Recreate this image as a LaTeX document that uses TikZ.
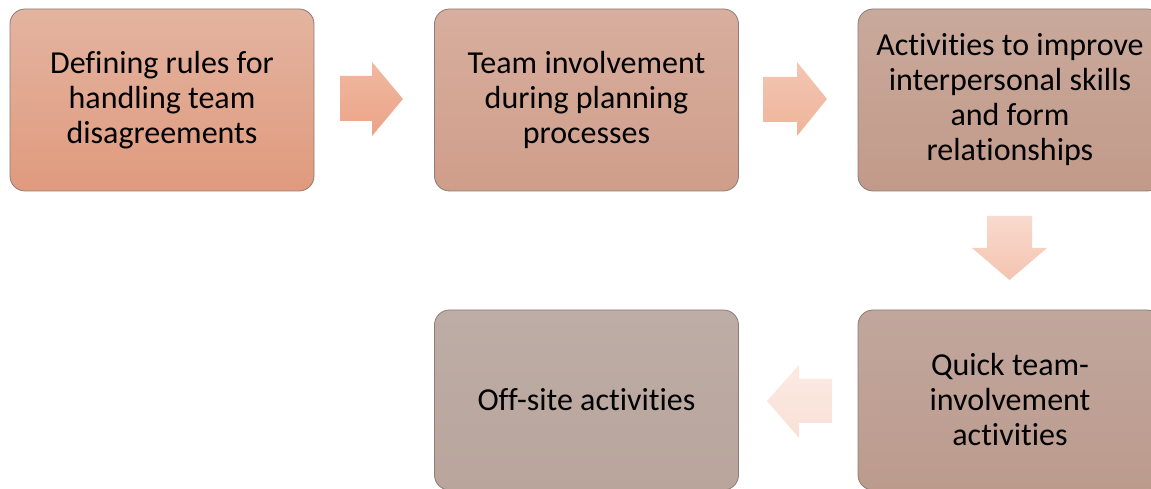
\documentclass[tikz,border=0pt]{standalone}
\usepackage{fontspec}
\setmainfont{Carlito}[Ligatures=NoCommon]
\begin{document}
\begin{tikzpicture}[x=1pt,y=1pt,
  stepbox/.style={rectangle, rounded corners=15pt, draw=boxline, line width=0.8pt,
    minimum width=304pt, minimum height=182pt, inner sep=0pt, align=center,
    font=\fontsize{32}{35}\selectfont, text=black},
  blockarrow/.style={draw=none}]
\definecolor{boxline}{HTML}{8C7C74}
\useasboundingbox (0,0) rectangle (1151,489);
\node[stepbox, top color={rgb,255:red,227;green,180;blue,160}, bottom color={rgb,255:red,224;green,154;blue,126}] (b1) at (162,389) {Defining rules for\\handling team\\disagreements};
\node[stepbox, top color={rgb,255:red,216;green,174;blue,158}, bottom color={rgb,255:red,207;green,158;blue,138}] (b2) at (586.5,389) {Team involvement\\during planning\\processes};
\node[stepbox, top color={rgb,255:red,201;green,169;blue,156}, bottom color={rgb,255:red,194;green,154;blue,137}] (b3) at (1010,389) {Activities to improve\\interpersonal skills\\and form\\relationships};
\node[stepbox, minimum height=180pt, top color={rgb,255:red,193;green,166;blue,157}, bottom color={rgb,255:red,188;green,155;blue,141}] (b5) at (1010,89) {Quick team-\\involvement\\activities};
\node[stepbox, minimum height=180pt, top color={rgb,255:red,189;green,173;blue,166}, bottom color={rgb,255:red,185;green,165;blue,156}] (b4) at (586.5,89) {Off-site activities};
% arrows
\shade[blockarrow, top color={rgb,255:red,240;green,184;blue,160}, bottom color={rgb,255:red,235;green,164;blue,136}]
  (340,413) -- (372,413) -- (372,427) -- (403,390) -- (372,353) -- (372,368) -- (340,368) -- cycle;
\shade[blockarrow, top color={rgb,255:red,243;green,198;blue,178}, bottom color={rgb,255:red,239;green,180;blue,154}]
  (763,412) -- (797,412) -- (797,427) -- (827,390) -- (797,353) -- (797,367) -- (763,367) -- cycle;
\shade[blockarrow, top color={rgb,255:red,248;green,218;blue,206}, bottom color={rgb,255:red,244;green,196;blue,176}]
  (987,273) -- (1032,273) -- (1032,241) -- (1047,241) -- (1009.5,209) -- (972,241) -- (987,241) -- cycle;
\shade[blockarrow, top color={rgb,255:red,251;green,234;blue,226}, bottom color={rgb,255:red,249;green,224;blue,214}]
  (832,110) -- (799,110) -- (799,124) -- (767,88) -- (799,51) -- (799,66) -- (832,66) -- cycle;
\end{tikzpicture}
\end{document}
